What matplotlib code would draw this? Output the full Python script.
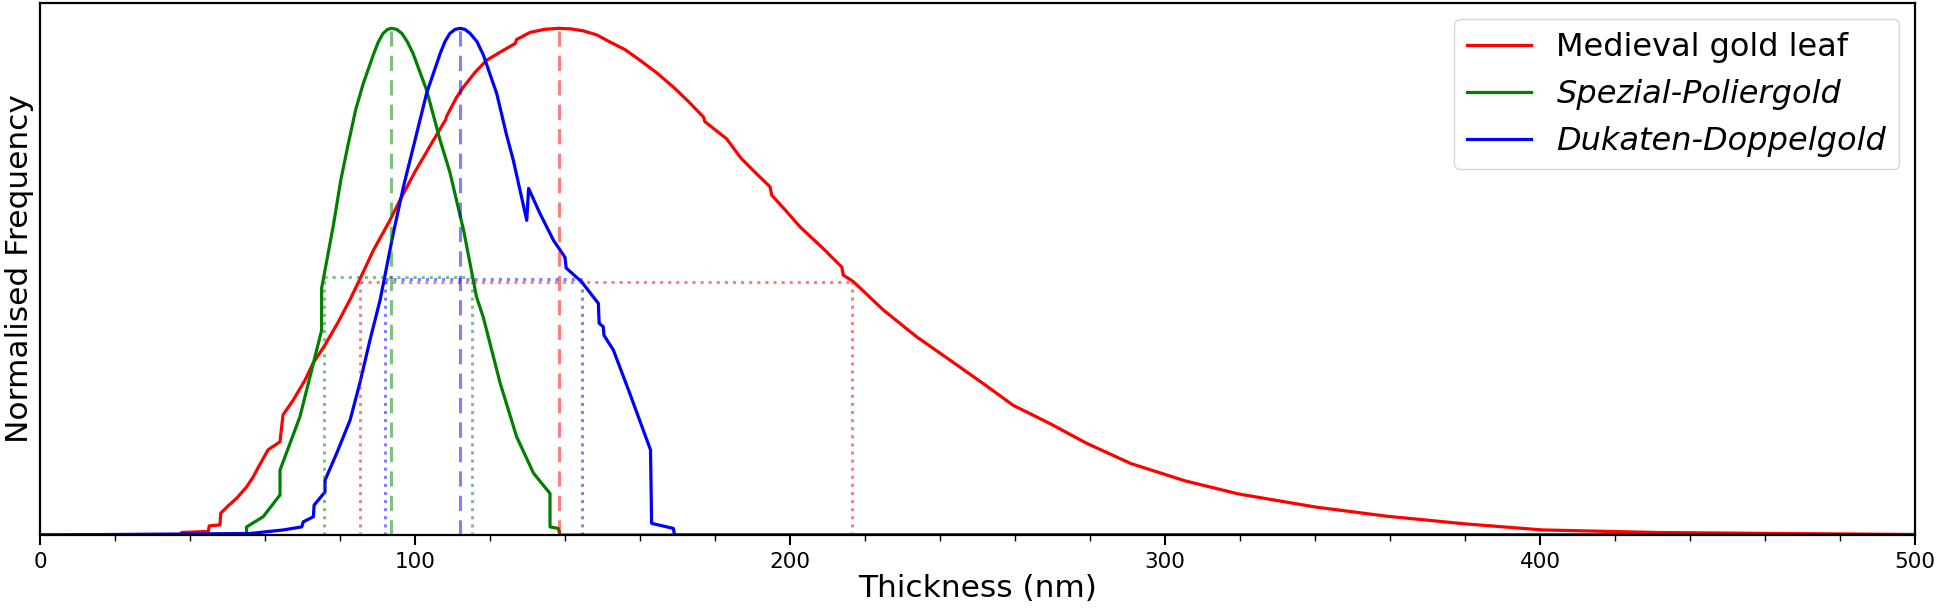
import numpy as np
import matplotlib
matplotlib.use("Agg")
import matplotlib.pyplot as plt

# thickness distributions (nm, normalised frequency)
red_x = [0, 37.5, 37.8, 44.9, 45.1, 48, 48.2, 50.1, 52.5, 55.1, 56.8, 58.1, 60.8, 64, 64.8,
         67.5, 70.7, 72.8, 76, 79.5, 82.7, 85.3, 88.9, 93.3, 96, 100, 104.9, 108.2, 108.4, 111.1,
         112.9, 116, 119.1, 122.7, 126.7, 127.1, 130.7, 134.5, 138.2, 141.5, 144.9, 148.5,
         152, 156, 160, 164.5, 168.9, 173, 176.9, 177.3, 180, 183.1, 186.9, 190.8, 194.7, 195.1,
         198.9, 202.7, 208.9, 213.8, 214.2, 216.9, 224.9, 233.8, 242.7, 251.5, 259.5, 269.3,
         279.1, 290.9, 305.3, 319.6, 340.3, 359.3, 380, 400.6, 431, 462.6, 500]
red_y = [0, 0, 0.005, 0.007, 0.018, 0.02, 0.043, 0.057, 0.073, 0.095, 0.114, 0.132, 0.168, 0.184, 0.237,
         0.266, 0.306, 0.339, 0.375, 0.42, 0.465, 0.505, 0.562, 0.621, 0.661, 0.717, 0.779, 0.82, 0.826, 0.864,
         0.884, 0.913, 0.937, 0.953, 0.97, 0.978, 0.992, 0.998, 1.0, 0.999, 0.995, 0.987,
         0.973, 0.958, 0.937, 0.912, 0.884, 0.855, 0.825, 0.816, 0.8, 0.782, 0.744, 0.715, 0.687, 0.671,
         0.64, 0.608, 0.565, 0.529, 0.513, 0.5, 0.444, 0.391, 0.345, 0.299, 0.256, 0.22,
         0.181, 0.141, 0.107, 0.081, 0.055, 0.037, 0.022, 0.01, 0.005, 0.003, 0.001]

green_x = [0, 55.1, 55.1, 59.5, 64, 64, 69.3, 72.9, 75.1, 75.1, 78.2, 80.2, 82.2, 84.2, 86.2, 88.9, 90.2,
           91.5, 92.7, 93.8, 95.1, 96.5, 98, 99.5, 103.1, 106.7, 109.3, 113, 116.4, 118.2, 122.7,
           127.1, 131.6, 136, 136, 138.2, 138.7, 500]
green_y = [0, 0, 0.016, 0.036, 0.079, 0.128, 0.233, 0.339, 0.404, 0.487, 0.61, 0.7, 0.772, 0.84, 0.891, 0.948, 0.973,
           0.99, 0.998, 1.0, 0.998, 0.99, 0.973, 0.95, 0.878, 0.779, 0.716, 0.6, 0.47, 0.43, 0.3,
           0.194, 0.122, 0.082, 0.016, 0.013, 0, 0]

blue_x = [0, 56, 64.9, 69.8, 70.2, 72.9, 73.1, 76, 76, 79.1, 82.7, 85.3, 88, 90.7, 94.2, 97,
          100, 103.1, 106.7, 108, 109.3, 110.7, 112, 113.3, 114.7, 116.5, 118.2, 121.8, 124.4,
          126.2, 129.8, 130.3, 133.3, 136.9, 140, 140.3, 144.4, 148.9, 149.1, 150.2, 150.4,
          152.9, 157.3, 162.8, 163.1, 168.9, 169.2, 500]
blue_y = [0, 0.003, 0.01, 0.016, 0.026, 0.036, 0.059, 0.085, 0.108, 0.161, 0.227, 0.3, 0.385, 0.464, 0.595, 0.69,
          0.779, 0.872, 0.95, 0.974, 0.99, 0.998, 1.0, 0.998, 0.99, 0.974, 0.948, 0.871, 0.79,
          0.74, 0.621, 0.684, 0.635, 0.582, 0.548, 0.527, 0.5, 0.457, 0.418, 0.411, 0.394,
          0.365, 0.279, 0.168, 0.023, 0.013, 0, 0]

labels = ["Medieval gold leaf", "Spezial-Poliergold", "Dukaten-Doppelgold"]
colors = ["red", "green", "blue"]

# mode and half-maximum positions
modes = [138.3, 93.7, 111.9]
hm_left = [85.2, 75.6, 91.9]
hm_right = [216.4, 115.2, 144.4]
hm_level = [0.5, 0.509, 0.506]

curves = [(red_x, red_y), (green_x, green_y), (blue_x, blue_y)]

fig = plt.figure(figsize=(19.36, 6.12), dpi=100)
ax = fig.add_axes([40 / 1936, 77 / 612, 1875 / 1936, 532 / 612])

for (xs, ys), lab, c in zip(curves, labels, colors):
    ax.plot(xs, ys, color=c, lw=2.3, label=lab)

for i, c in enumerate(colors):
    ax.plot([modes[i], modes[i]], [0, 1], color=c, ls=(0, (5, 3)), lw=2.2, alpha=0.5)
    ax.plot([hm_left[i], hm_right[i]], [hm_level[i], hm_level[i]], color=c, ls=":", lw=2.2, alpha=0.5)
    ax.plot([hm_left[i], hm_left[i]], [0, hm_level[i]], color=c, ls=":", lw=2.2, alpha=0.5)
    ax.plot([hm_right[i], hm_right[i]], [0, hm_level[i]], color=c, ls=":", lw=2.2, alpha=0.5)

ax.set_xlim(0, 500)
ax.set_ylim(0, 1.05)
ax.set_yticks([])
ax.set_xticks([0, 100, 200, 300, 400, 500])
ax.set_xticks(np.arange(0, 501, 20), minor=True)
ax.tick_params(axis="x", which="major", length=7, width=1.5, labelsize=15.5, pad=5)
ax.tick_params(axis="x", which="minor", length=4, width=1)
for s in ax.spines.values():
    s.set_linewidth(1.6)

ax.set_xlabel("Thickness (nm)", fontsize=22.5, labelpad=2)
ax.set_ylabel("Normalised Frequency", fontsize=22.5, labelpad=4)

leg = ax.legend(loc="upper right", fontsize=23)
for t in leg.get_texts()[1:]:
    t.set_fontstyle("italic")

fig.savefig("out.png", dpi=100)
